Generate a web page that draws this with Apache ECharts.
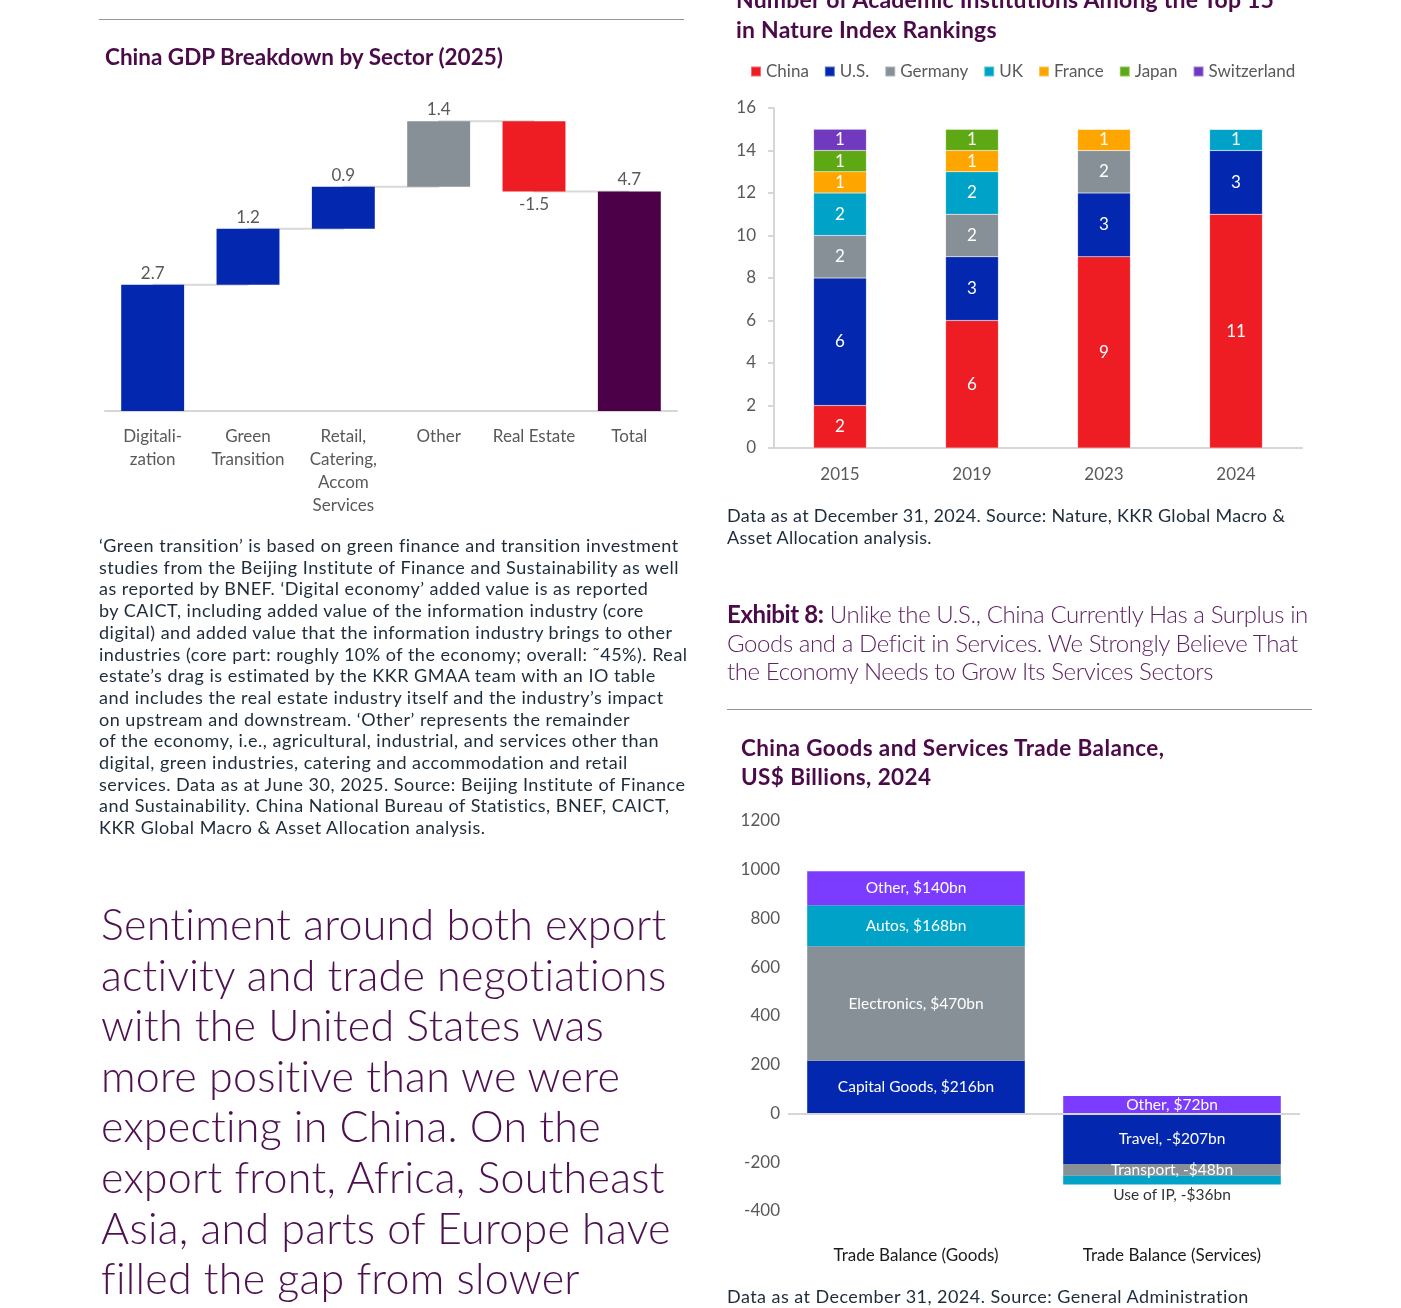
<!DOCTYPE html>
<html>
<head>
<meta charset="utf-8">
<script src="https://cdn.jsdelivr.net/npm/echarts@6/dist/echarts.min.js"></script>
<style>
  html, body { margin: 0; padding: 0; background: #fff; }
  body { width: 1401px; height: 1308px; position: relative; overflow: hidden; font-family: 'Lato', sans-serif; }
  #chart { position: absolute; left: 0; top: 0; width: 1401px; height: 1308px; }
  .txt { position: absolute; white-space: nowrap; pointer-events: none; z-index: 2; }
  .rule { position: absolute; height: 0; border-top: 1.5px solid #8f959a; z-index: 2; }
  .ttl { color: #4b0a48; font-weight: 700; }
  .note { color: #1d2b3a; font-size: 18px; line-height: 21.7px; letter-spacing: 0.5px; }
  .quote { color: #4e1150; font-size: 43px; line-height: 50.6px; font-weight: 300; letter-spacing: 0.25px; }
  .exh { color: #5e2360; font-size: 24px; line-height: 28.7px; font-weight: 300; letter-spacing: -0.4px; }
  .exh b { color: #4b0a48; font-weight: 700; }
</style>
</head>
<body>
<div id="chart"></div>

<div class="rule" style="left:99px;top:19px;width:585px"></div>
<div class="txt ttl" style="left:105px;top:43px;font-size:22.5px;line-height:28px;letter-spacing:0px">China GDP Breakdown by Sector (2025)</div>

<div class="txt note" style="left:99px;top:535px">‘Green transition’ is based on green finance and transition investment<br>studies from the Beijing Institute of Finance and Sustainability as well<br>as reported by BNEF. ‘Digital economy’ added value is as reported<br>by CAICT, including added value of the information industry (core<br>digital) and added value that the information industry brings to other<br>industries (core part: roughly 10% of the economy; overall: ˜45%). Real<br>estate’s drag is estimated by the KKR GMAA team with an IO table<br>and includes the real estate industry itself and the industry’s impact<br>on upstream and downstream. ‘Other’ represents the remainder<br>of the economy, i.e., agricultural, industrial, and services other than<br>digital, green industries, catering and accommodation and retail<br>services. Data as at June 30, 2025. Source: Beijing Institute of Finance<br>and Sustainability. China National Bureau of Statistics, BNEF, CAICT,<br>KKR Global Macro &amp; Asset Allocation analysis.</div>

<div class="txt quote" style="left:101px;top:899px">Sentiment around both export<br>activity and trade negotiations<br>with the United States was<br>more positive than we were<br>expecting in China. On the<br>export front, Africa, Southeast<br>Asia, and parts of Europe have<br>filled the gap from slower</div>

<div class="txt ttl" style="left:736px;top:-16px;font-size:23px;line-height:30px;letter-spacing:0.2px">Number of Academic Institutions Among the Top 15<br>in Nature Index Rankings</div>

<div class="txt note" style="left:727px;top:504px;line-height:22px;letter-spacing:0.3px">Data as at December 31, 2024. Source: Nature, KKR Global Macro &amp;<br>Asset Allocation analysis.</div>

<div class="txt exh" style="left:727px;top:600px"><b>Exhibit 8:</b> Unlike the U.S., China Currently Has a Surplus in<br>Goods and a Deficit in Services. We Strongly Believe That<br>the Economy Needs to Grow Its Services Sectors</div>

<div class="rule" style="left:727px;top:709px;width:585px"></div>
<div class="txt ttl" style="left:741px;top:733px;font-size:22.5px;line-height:29px;letter-spacing:0.4px">China Goods and Services Trade Balance,<br>US$ Billions, 2024</div>

<div class="txt note" style="left:727px;top:1285px;line-height:22px;letter-spacing:0.45px">Data as at December 31, 2024. Source: General Administration</div>

<script>
  // --- China GDP breakdown (waterfall) ---
  const gdpCategories = ['Digitali-\nzation', 'Green\nTransition', 'Retail,\nCatering,\nAccom\nServices', 'Other', 'Real Estate', 'Total']
  const gdpChanges = [2.7, 1.2, 0.9, 1.4, -1.5]
  const gdpTotal = 4.7
  const gdpColors = ['#0328af', '#0328af', '#0328af', '#879096', '#ee1d24', '#4b0047']

  // --- Nature Index top 15 ---
  const natureYears = ['2015', '2019', '2023', '2024']
  const natureCountries = ['China', 'U.S.', 'Germany', 'UK', 'France', 'Japan', 'Switzerland']
  const chinaCounts = [2, 6, 9, 11]
  const usCounts = [6, 3, 3, 3]
  const germanyCounts = [2, 2, 2, 0]
  const ukCounts = [2, 2, 0, 1]
  const franceCounts = [1, 1, 1, 0]
  const japanCounts = [1, 1, 0, 0]
  const switzerlandCounts = [1, 0, 0, 0]
  const natureColors = ['#ee1d24', '#0328af', '#879096', '#00a3c7', '#ffa500', '#5da813', '#7039bf']

  // --- Trade balance 2024 ---
  const tradeCategories = ['Trade Balance (Goods)', 'Trade Balance (Services)']
  const goodsNames = ['Capital Goods', 'Electronics', 'Autos', 'Other']
  const goodsValues = [216, 470, 168, 140]
  const servicesNames = ['Travel', 'Transport', 'Use of IP', 'Other']
  const servicesValues = [-207, -48, -36, 72]
  const tradeColors = ['#0328af', '#879096', '#00a3c7', '#7b3cff']

  const FONT = 'Lato'
  const AXIS_GREY = '#d6d6d6'
  const LABEL_GREY = '#595959'

  // waterfall: invisible base + visible part
  let running = 0
  const wfBase = []
  const wfHeight = []
  const wfLevel = []
  gdpChanges.forEach(v => {
    const next = running + v
    wfBase.push(Math.min(running, next))
    wfHeight.push(Math.abs(v))
    wfLevel.push(next)
    running = next
  })
  wfBase.push(0)
  wfHeight.push(gdpTotal)
  wfLevel.push(gdpTotal)
  const wfShown = gdpChanges.concat([gdpTotal])

  const natureSeriesData = [chinaCounts, usCounts, germanyCounts, ukCounts, franceCounts, japanCounts, switzerlandCounts]

  const chart = echarts.init(document.getElementById('chart'))
  const option = {
    animation: false,
    textStyle: {fontFamily: FONT},
    legend: {
      data: natureCountries,
      left: 745,
      top: 58,
      icon: 'rect',
      itemWidth: 10,
      itemHeight: 10,
      itemGap: 15,
      textStyle: {color: LABEL_GREY, fontSize: 17, fontFamily: FONT}
    },
    grid: [
      {left: 105, top: 84, width: 572, height: 327},
      {left: 774, top: 108, width: 528, height: 340},
      {left: 788, top: 821, width: 512, height: 390}
    ],
    xAxis: [
      {
        type: 'category', gridIndex: 0, data: gdpCategories,
        axisLine: {lineStyle: {color: AXIS_GREY, width: 2}},
        axisTick: {length: 7, lineStyle: {color: AXIS_GREY, width: 2}},
        axisLabel: {color: LABEL_GREY, fontSize: 17, lineHeight: 23, margin: 14, interval: 0, fontFamily: FONT}
      },
      {
        type: 'category', gridIndex: 1, data: natureYears,
        axisLine: {lineStyle: {color: AXIS_GREY, width: 2}},
        axisTick: {length: 6, lineStyle: {color: AXIS_GREY, width: 2}},
        axisLabel: {color: LABEL_GREY, fontSize: 17, margin: 18, fontFamily: FONT}
      },
      {
        type: 'category', gridIndex: 2, data: tradeCategories,
        axisLine: {show: false, onZero: false},
        axisTick: {show: false},
        axisLabel: {color: '#1a1a1a', fontSize: 17, margin: 36, fontFamily: FONT}
      }
    ],
    yAxis: [
      {type: 'value', gridIndex: 0, min: 0, max: 7, show: false},
      {
        type: 'value', gridIndex: 1, min: 0, max: 16, interval: 2,
        axisLine: {show: true, lineStyle: {color: AXIS_GREY, width: 2}},
        axisTick: {show: true, length: 6, lineStyle: {color: AXIS_GREY, width: 2}},
        splitLine: {show: false},
        axisLabel: {color: LABEL_GREY, fontSize: 17, margin: 18, fontFamily: FONT}
      },
      {
        type: 'value', gridIndex: 2, min: -400, max: 1200, interval: 200,
        axisLine: {show: false},
        axisTick: {show: false},
        splitLine: {show: false},
        axisLabel: {color: LABEL_GREY, fontSize: 17, margin: 8, fontFamily: FONT, formatter: v => String(v)}
      }
    ],
    series: [
      {
        name: 'connector', type: 'line', xAxisIndex: 0, yAxisIndex: 0,
        data: wfLevel, step: 'end', symbol: 'none', z: 1, silent: true,
        lineStyle: {color: '#d9d9d9', width: 2}
      },
      {
        name: 'base', type: 'bar', xAxisIndex: 0, yAxisIndex: 0, stack: 'wf',
        data: wfBase, itemStyle: {color: 'transparent'}, barWidth: '66%', z: 3, silent: true
      },
      {
        name: 'change', type: 'bar', xAxisIndex: 0, yAxisIndex: 0, stack: 'wf', z: 3,
        data: wfHeight.map((h, i) => ({
          value: h,
          itemStyle: {color: gdpColors[i]},
          label: wfShown[i] < 0 ? {position: 'bottom', distance: 5} : {position: 'top', distance: 3}
        })),
        label: {
          show: true, color: LABEL_GREY, fontSize: 17, fontFamily: FONT,
          formatter: p => String(wfShown[p.dataIndex])
        }
      },
      ...natureCountries.map((name, i) => ({
        name: name, type: 'bar', xAxisIndex: 1, yAxisIndex: 1, stack: 'nature',
        barWidth: '40%',
        data: natureSeriesData[i],
        itemStyle: {color: natureColors[i], borderColor: 'rgba(255,255,255,0.35)', borderWidth: 0.5},
        label: {
          show: true, position: 'inside', color: '#fff', fontSize: 17, fontFamily: FONT,
          formatter: p => p.value ? String(p.value) : ''
        }
      })),
      ...goodsNames.map((gname, i) => ({
        name: 'trade-' + i, type: 'bar', xAxisIndex: 2, yAxisIndex: 2, stack: 'trade',
        barWidth: '85%',
        itemStyle: {color: tradeColors[i]},
        data: [
          {value: goodsValues[i], label: {}},
          {value: servicesValues[i], label: servicesNames[i] === 'Use of IP' ? {position: 'bottom', color: '#333', distance: 3} : {}}
        ],
        label: {
          show: true, position: 'inside', color: '#fff', fontSize: 15.5, fontFamily: FONT,
          formatter: p => {
            const nm = p.dataIndex === 0 ? goodsNames[i] : servicesNames[i]
            const v = p.value
            return nm + ', ' + (v < 0 ? '-' : '') + '$' + Math.abs(v) + 'bn'
          }
        },
        markLine: i === 0 ? {
          silent: true, symbol: 'none', label: {show: false},
          lineStyle: {color: AXIS_GREY, width: 2, type: 'solid'},
          data: [{yAxis: 0}]
        } : undefined
      }))
    ]
  }
  chart.setOption(option)
</script>
</body>
</html>
